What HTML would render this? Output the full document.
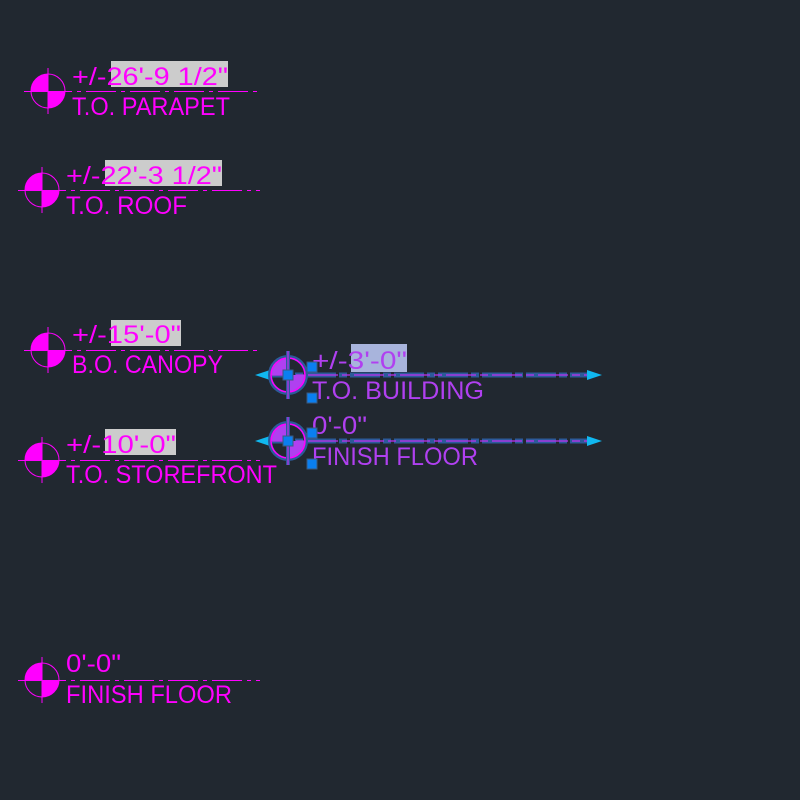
<!DOCTYPE html>
<html><head><meta charset="utf-8"><style>
html,body{margin:0;padding:0;background:#212830;width:800px;height:800px;overflow:hidden}
svg{display:block}
text{font-family:"Liberation Sans",sans-serif;font-size:25px}
</style></head><body>
<svg width="800" height="800" viewBox="0 0 800 800" xmlns="http://www.w3.org/2000/svg">
<rect width="800" height="800" fill="#212830"/>
<defs>
<g id="sym">
<path d="M0 0 L-17 0 A17 17 0 0 1 0 -17 Z" fill="#ff00ff"/>
<path d="M0 0 L17 0 A17 17 0 0 1 0 17 Z" fill="#ff00ff"/>
<circle r="17" fill="none" stroke="#ff00ff" stroke-width="1"/>
<line x1="0" y1="-23" x2="0" y2="23" stroke="#ff00ff" stroke-width="1"/>
</g>
</defs>
<g fill="#ff00ff">
<line x1="24" y1="91.5" x2="260" y2="91.5" stroke="#ff00ff" stroke-width="1" stroke-dasharray="48 5 4 5 30 5 4 5 30 5 4 5 30 5 4 5 30 5 4 5"/>
<use href="#sym" x="48" y="91"/>
<rect x="111" y="61" width="117" height="26" fill="#cccccc"/>
<text x="72" y="85" textLength="156" lengthAdjust="spacingAndGlyphs">+/-26'-9 1/2"</text>
<text x="72" y="115" textLength="158" lengthAdjust="spacingAndGlyphs">T.O. PARAPET</text>

<line x1="18" y1="190.5" x2="260" y2="190.5" stroke="#ff00ff" stroke-width="1" stroke-dasharray="48 5 4 5 30 5 4 5 30 5 4 5 30 5 4 5 30 5 4 5"/>
<use href="#sym" x="42" y="190"/>
<rect x="105" y="160" width="117" height="26" fill="#cccccc"/>
<text x="66" y="184" textLength="156" lengthAdjust="spacingAndGlyphs">+/-22'-3 1/2"</text>
<text x="66" y="214" textLength="121" lengthAdjust="spacingAndGlyphs">T.O. ROOF</text>

<line x1="24" y1="350.5" x2="260" y2="350.5" stroke="#ff00ff" stroke-width="1" stroke-dasharray="48 5 4 5 30 5 4 5 30 5 4 5 30 5 4 5 30 5 4 5"/>
<use href="#sym" x="48" y="350"/>
<rect x="111" y="320" width="70" height="26" fill="#cccccc"/>
<text x="72" y="343" textLength="109" lengthAdjust="spacingAndGlyphs">+/-15'-0"</text>
<text x="72" y="373" textLength="151" lengthAdjust="spacingAndGlyphs">B.O. CANOPY</text>

<line x1="18" y1="460.5" x2="260" y2="460.5" stroke="#ff00ff" stroke-width="1" stroke-dasharray="48 5 4 5 30 5 4 5 30 5 4 5 30 5 4 5 30 5 4 5"/>
<use href="#sym" x="42" y="460"/>
<rect x="105" y="429" width="71" height="26" fill="#cccccc"/>
<text x="66" y="453" textLength="110" lengthAdjust="spacingAndGlyphs">+/-10'-0"</text>
<text x="66" y="483" textLength="211" lengthAdjust="spacingAndGlyphs">T.O. STOREFRONT</text>

<line x1="18" y1="680.5" x2="260" y2="680.5" stroke="#ff00ff" stroke-width="1" stroke-dasharray="48 5 4 5 30 5 4 5 30 5 4 5 30 5 4 5 30 5 4 5"/>
<use href="#sym" x="42" y="680"/>
<text x="66" y="672" textLength="55" lengthAdjust="spacingAndGlyphs">0'-0"</text>
<text x="66" y="703" textLength="166" lengthAdjust="spacingAndGlyphs">FINISH FLOOR</text>
</g>

<g>
<g id="selA">
<line x1="262" y1="375" x2="590" y2="375" stroke="#2c5a9a" stroke-width="5" stroke-dasharray="30 3 8 3"/>
<line x1="262" y1="375" x2="590" y2="375" stroke="#c030f0" stroke-width="1.2" stroke-dasharray="30 4 8 4"/>
<polygon points="255,375 270,370 270,380" fill="#10b8f0"/>
<polygon points="602,375 587,370 587,380" fill="#10b8f0"/>
<circle cx="288" cy="375" r="18" fill="none" stroke="#2c5a9a" stroke-width="4"/>
<path d="M288 375 L271 375 A17 17 0 0 1 288 358 Z" fill="#b040f0"/>
<path d="M288 375 L305 375 A17 17 0 0 1 288 392 Z" fill="#b040f0"/>
<circle cx="288" cy="375" r="17" fill="none" stroke="#ff00ff" stroke-width="1.5"/>
<line x1="288" y1="351" x2="288" y2="399" stroke="#2c5a9a" stroke-width="4"/>
<line x1="288" y1="351" x2="288" y2="399" stroke="#c030f0" stroke-width="1.2"/>
</g>
<rect x="351" y="344" width="56" height="28" fill="#a8b4dc"/>
<text x="312" y="369" fill="#b040f0" textLength="95" lengthAdjust="spacingAndGlyphs">+/-3'-0"</text>
<text x="312" y="399" fill="#b040f0" textLength="172" lengthAdjust="spacingAndGlyphs">T.O. BUILDING</text>
<use href="#selA" y="66"/>
<text x="312" y="434" fill="#b040f0" textLength="55" lengthAdjust="spacingAndGlyphs">0'-0"</text>
<text x="312" y="465" fill="#b040f0" textLength="166" lengthAdjust="spacingAndGlyphs">FINISH FLOOR</text>
<g fill="#0a7ff0" stroke="#3a5a80" stroke-width="1">
<rect x="283" y="370" width="10" height="10"/>
<rect x="307" y="362" width="10" height="10"/>
<rect x="307" y="393" width="10" height="10"/>
<rect x="283" y="436" width="10" height="10"/>
<rect x="307" y="428" width="10" height="10"/>
<rect x="307" y="459" width="10" height="10"/>
</g>
</g>
</svg>
</body></html>
